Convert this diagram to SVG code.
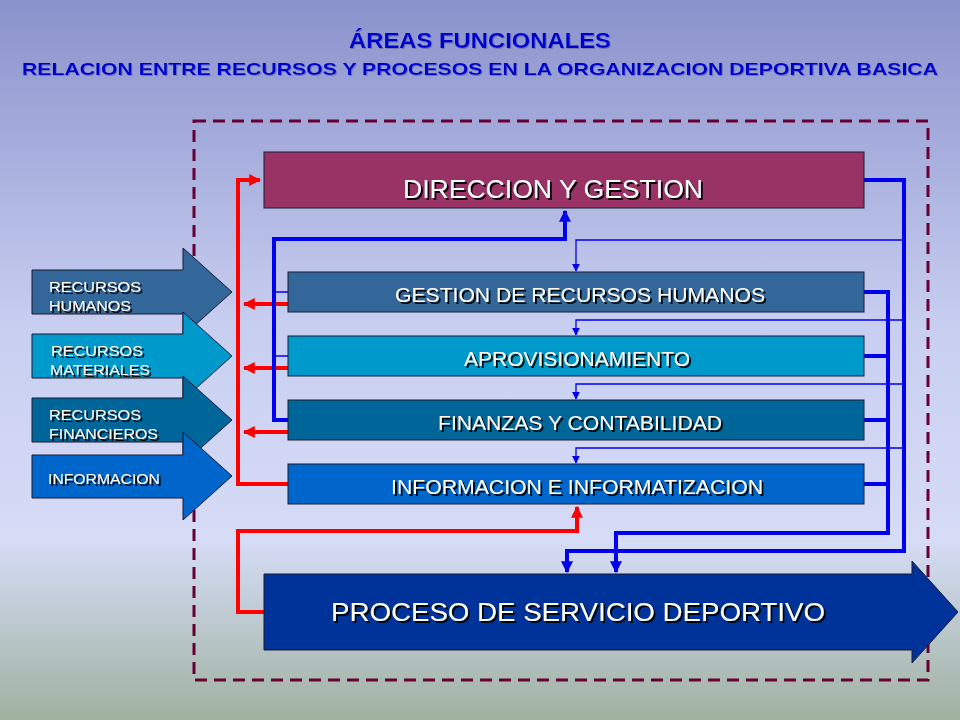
<svg xmlns="http://www.w3.org/2000/svg" width="960" height="720" viewBox="0 0 960 720">
<defs>
<linearGradient id="bg" x1="0" y1="0" x2="0" y2="1">
<stop offset="0" stop-color="#8a92cc"/><stop offset="0.45" stop-color="#c8cef0"/><stop offset="0.75" stop-color="#d6dcf6"/><stop offset="1" stop-color="#9fb2a0"/>
</linearGradient>
<marker id="rb" viewBox="0 0 10 10" refX="9" refY="5" markerWidth="3" markerHeight="3" orient="auto"><path d="M0,0L10,5L0,10z" fill="#ff0000"/></marker>
<marker id="bb" viewBox="0 0 10 10" refX="9" refY="5" markerWidth="3" markerHeight="3" orient="auto"><path d="M0,0L10,5L0,10z" fill="#0000ee"/></marker>
<marker id="bt" viewBox="0 0 10 10" refX="9" refY="5" markerWidth="6" markerHeight="6" orient="auto"><path d="M0,0L10,5L0,10z" fill="#0000ee"/></marker>
<filter id="sh" x="-5%" y="-20%" width="110%" height="150%"><feDropShadow dx="2" dy="2" stdDeviation="0" flood-color="#000" flood-opacity="0.9"/></filter>
<filter id="sh2" x="-5%" y="-20%" width="110%" height="150%"><feDropShadow dx="1" dy="1" stdDeviation="0" flood-color="#6670aa" flood-opacity="0.8"/></filter>
</defs>
<style>
text{font-family:"Liberation Sans",Arial,sans-serif;fill:#fff}
.t{filter:url(#sh)}
.box{stroke:#1a1a33;stroke-width:1}
.red{fill:none;stroke:#ff0000;stroke-width:4}
.blue{fill:none;stroke:#0000ee;stroke-width:4}
.thin{fill:none;stroke:#0000ee;stroke-width:1.3}
</style>
<rect width="960" height="720" fill="url(#bg)"/>
<g id="title" filter="url(#sh2)">
<text x="480" y="48" text-anchor="middle" font-size="22" font-weight="bold" style="fill:#0000cc" textLength="262" lengthAdjust="spacingAndGlyphs">ÁREAS FUNCIONALES</text>
<text x="480" y="75" text-anchor="middle" font-size="17" font-weight="bold" style="fill:#0000cc" textLength="916" lengthAdjust="spacingAndGlyphs">RELACION ENTRE RECURSOS Y PROCESOS  EN LA ORGANIZACION  DEPORTIVA BASICA</text>
</g>
<rect x="194" y="121" width="734" height="559" fill="none" stroke="#660033" stroke-width="3" stroke-dasharray="12 7"/>
<g id="in-rh"><path class="box" d="M32,270H183V248L232,292L183,336V314H32z" fill="#336699"/><text class="t" x="49" y="292" font-size="15" textLength="92" lengthAdjust="spacingAndGlyphs">RECURSOS</text><text class="t" x="49" y="311" font-size="15" textLength="82" lengthAdjust="spacingAndGlyphs">HUMANOS</text></g>
<g id="in-rm"><path class="box" d="M32,334H183V312L232,356L183,400V378H32z" fill="#0099cc"/><text class="t" x="51" y="356" font-size="15" textLength="92" lengthAdjust="spacingAndGlyphs">RECURSOS</text><text class="t" x="50" y="375" font-size="15" textLength="100" lengthAdjust="spacingAndGlyphs">MATERIALES</text></g>
<g id="in-rf"><path class="box" d="M32,398H183V376L232,420L183,464V442H32z" fill="#006699"/><text class="t" x="49" y="420" font-size="15" textLength="92" lengthAdjust="spacingAndGlyphs">RECURSOS</text><text class="t" x="49" y="439" font-size="15" textLength="109" lengthAdjust="spacingAndGlyphs">FINANCIEROS</text></g>
<g id="in-inf"><path class="box" d="M32,455H183V432L232,476L183,520V498H32z" fill="#0066cc"/><text class="t" x="48" y="484" font-size="15" textLength="112" lengthAdjust="spacingAndGlyphs">INFORMACION</text></g>
<g id="connectors">
<path class="red" d="M288,484H238V180H260" marker-end="url(#rb)"/>
<path class="red" d="M288,304H244" marker-end="url(#rb)"/>
<path class="red" d="M288,368H244" marker-end="url(#rb)"/>
<path class="red" d="M288,432H244" marker-end="url(#rb)"/>
<path class="red" d="M264,612H238V531H577V507" marker-end="url(#rb)"/>
<path class="blue" d="M288,420H274V239H565V211" marker-end="url(#bb)"/>
<path class="blue" d="M864,180H904V551H567V572" marker-end="url(#bb)"/>
<path class="blue" d="M864,292H888V533H616V572" marker-end="url(#bb)"/>
<path class="blue" d="M864,356H888M864,420H888M864,484H888"/>
<path class="thin" d="M904,240H576V271" marker-end="url(#bt)"/>
<path class="thin" d="M904,320H576V335" marker-end="url(#bt)"/>
<path class="thin" d="M904,384H576V399" marker-end="url(#bt)"/>
<path class="thin" d="M904,448H576V463" marker-end="url(#bt)"/>
<path class="thin" d="M274,292H288M274,356H288"/>
</g>
<g id="direccion"><rect class="box" x="264" y="152" width="600" height="56" fill="#993366"/><text class="t" x="553" y="198" text-anchor="middle" font-size="26" textLength="300" lengthAdjust="spacingAndGlyphs">DIRECCION Y GESTION</text></g>
<g id="grh"><rect class="box" x="288" y="272" width="576" height="40" fill="#336699"/><text class="t" x="580" y="302" text-anchor="middle" font-size="20" textLength="370" lengthAdjust="spacingAndGlyphs">GESTION DE RECURSOS  HUMANOS</text></g>
<g id="aprov"><rect class="box" x="288" y="336" width="576" height="40" fill="#0099cc"/><text class="t" x="577" y="366" text-anchor="middle" font-size="20" textLength="226" lengthAdjust="spacingAndGlyphs">APROVISIONAMIENTO</text></g>
<g id="fin"><rect class="box" x="288" y="400" width="576" height="40" fill="#006699"/><text class="t" x="580" y="430" text-anchor="middle" font-size="20" textLength="284" lengthAdjust="spacingAndGlyphs">FINANZAS Y CONTABILIDAD</text></g>
<g id="info"><rect class="box" x="288" y="464" width="576" height="40" fill="#0066cc"/><text class="t" x="577" y="494" text-anchor="middle" font-size="20" textLength="372" lengthAdjust="spacingAndGlyphs">INFORMACION  E INFORMATIZACION</text></g>
<g id="proceso"><path class="box" d="M264,574H912V561L958,612L912,663V650H264z" fill="#003399"/><text class="t" x="578" y="621" text-anchor="middle" font-size="26" textLength="494" lengthAdjust="spacingAndGlyphs">PROCESO  DE  SERVICIO DEPORTIVO</text></g>
</svg>
